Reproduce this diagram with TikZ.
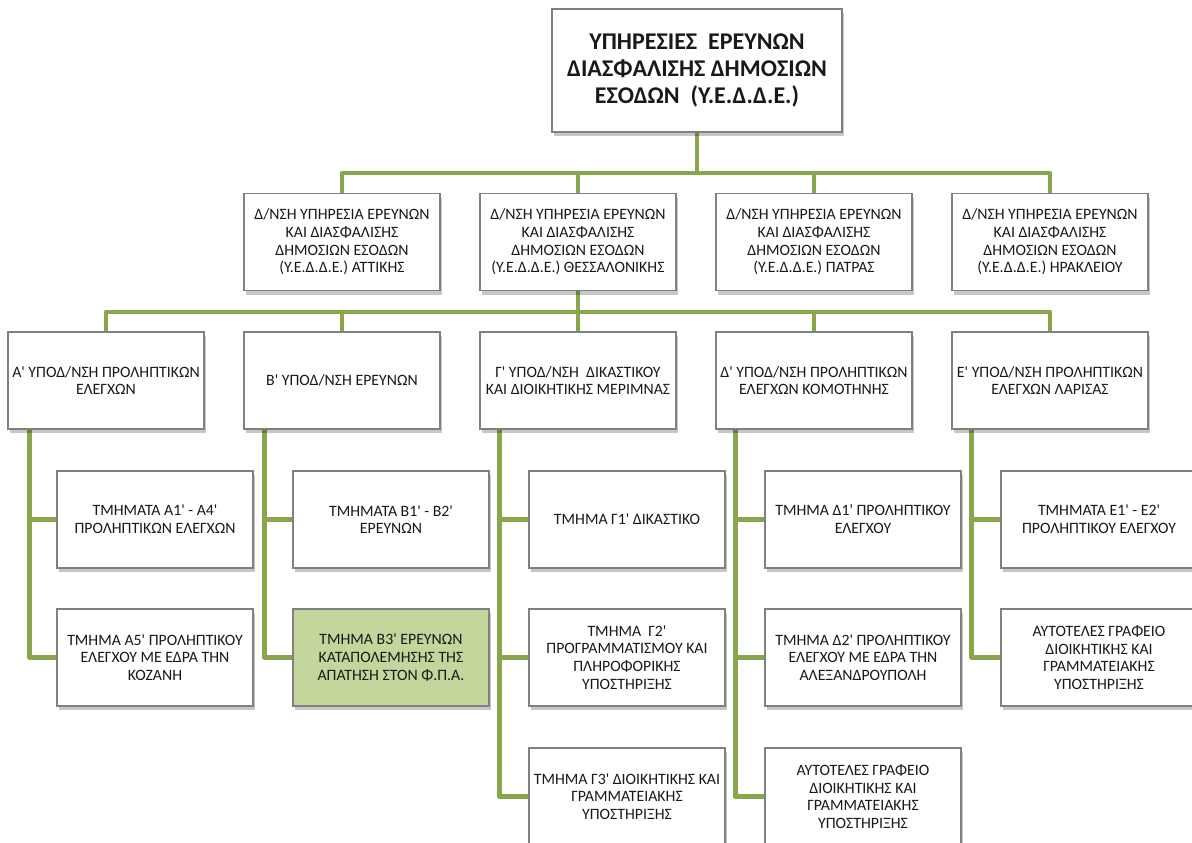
\documentclass[tikz,border=0pt]{standalone}
\usepackage{fontspec}
\setmainfont{Carlito}
\usetikzlibrary{shadows}
\definecolor{lgreen}{RGB}{138,166,76}
\definecolor{boxgray}{RGB}{128,128,128}
\definecolor{bfill}{RGB}{195,214,155}
\pgfdeclarelayer{back}
\pgfdeclarelayer{bg}
\pgfsetlayers{back,bg,main}
\newcommand\q{\textquotesingle}
\newcommand\fsnorm{\fontsize{15.8}{17.6}\selectfont}
\newcommand\fstop{\bfseries\fontsize{24}{26.7}\selectfont}
\tikzset{
  box/.style={draw=boxgray, line width=1.2pt, fill=white, minimum width=196pt,
    minimum height=97pt, inner sep=1pt, align=center, font=\fsnorm, text=black!90,
    drop shadow={shadow xshift=2pt, shadow yshift=-4pt, fill=black, opacity=0.22}},
  topbox/.style={box, minimum width=290pt, minimum height=123pt, font=\fstop},
  greenbox/.style={box, fill=bfill},
  conn/.style={draw=lgreen, line width=4.8pt, line join=round}
}
\begin{document}
\begin{tikzpicture}[x=1pt,y=-1pt]
\useasboundingbox (0,0) rectangle (1192,843);
\clip (0,0) rectangle (1192,843);
\begin{pgfonlayer}{back}
\fill[white] (0,0) rectangle (1192,843);
\end{pgfonlayer}

% top
\node[topbox] (top) at (697,70.5) {ΥΠΗΡΕΣΙΕΣ\ \ ΕΡΕΥΝΩΝ\\ΔΙΑΣΦΑΛΙΣΗΣ ΔΗΜΟΣΙΩΝ\\ΕΣΟΔΩΝ\ \ (Υ.Ε.Δ.Δ.Ε.)};

% row 2
\node[box] (r2a) at (342,242) {Δ/ΝΣΗ ΥΠΗΡΕΣΙΑ ΕΡΕΥΝΩΝ\\ΚΑΙ ΔΙΑΣΦΑΛΙΣΗΣ\\ΔΗΜΟΣΙΩΝ ΕΣΟΔΩΝ\\(Υ.Ε.Δ.Δ.Ε.) ΑΤΤΙΚΗΣ};
\node[box] (r2b) at (578,242) {Δ/ΝΣΗ ΥΠΗΡΕΣΙΑ ΕΡΕΥΝΩΝ\\ΚΑΙ ΔΙΑΣΦΑΛΙΣΗΣ\\ΔΗΜΟΣΙΩΝ ΕΣΟΔΩΝ\\(Υ.Ε.Δ.Δ.Ε.) ΘΕΣΣΑΛΟΝΙΚΗΣ};
\node[box] (r2c) at (814,242) {Δ/ΝΣΗ ΥΠΗΡΕΣΙΑ ΕΡΕΥΝΩΝ\\ΚΑΙ ΔΙΑΣΦΑΛΙΣΗΣ\\ΔΗΜΟΣΙΩΝ ΕΣΟΔΩΝ\\(Υ.Ε.Δ.Δ.Ε.) ΠΑΤΡΑΣ};
\node[box] (r2d) at (1050,242) {Δ/ΝΣΗ ΥΠΗΡΕΣΙΑ ΕΡΕΥΝΩΝ\\ΚΑΙ ΔΙΑΣΦΑΛΙΣΗΣ\\ΔΗΜΟΣΙΩΝ ΕΣΟΔΩΝ\\(Υ.Ε.Δ.Δ.Ε.) ΗΡΑΚΛΕΙΟΥ};

% row 3
\node[box] (A) at (106,380.5) {Α\q{} ΥΠΟΔ/ΝΣΗ ΠΡΟΛΗΠΤΙΚΩΝ\\ΕΛΕΓΧΩΝ};
\node[box] (B) at (342,380.5) {Β\q{} ΥΠΟΔ/ΝΣΗ ΕΡΕΥΝΩΝ};
\node[box] (G) at (578,380.5) {Γ\q{} ΥΠΟΔ/ΝΣΗ\ \ ΔΙΚΑΣΤΙΚΟΥ\\ΚΑΙ ΔΙΟΙΚΗΤΙΚΗΣ ΜΕΡΙΜΝΑΣ};
\node[box] (D) at (814,380.5) {Δ\q{} ΥΠΟΔ/ΝΣΗ ΠΡΟΛΗΠΤΙΚΩΝ\\ΕΛΕΓΧΩΝ ΚΟΜΟΤΗΝΗΣ};
\node[box] (E) at (1050,380.5) {Ε\q{} ΥΠΟΔ/ΝΣΗ ΠΡΟΛΗΠΤΙΚΩΝ\\ΕΛΕΓΧΩΝ ΛΑΡΙΣΑΣ};

% children
\node[box] (A1) at (155,519.5) {ΤΜΗΜΑΤΑ Α1\q{} - Α4\q\\ΠΡΟΛΗΠΤΙΚΩΝ ΕΛΕΓΧΩΝ};
\node[box] (A2) at (155,657.5) {ΤΜΗΜΑ Α5\q{} ΠΡΟΛΗΠΤΙΚΟΥ\\ΕΛΕΓΧΟΥ ΜΕ ΕΔΡΑ ΤΗΝ\\ΚΟΖΑΝΗ};
\node[box] (B1) at (391,519.5) {ΤΜΗΜΑΤΑ Β1\q{} - Β2\q\\ΕΡΕΥΝΩΝ};
\node[greenbox] (B2) at (391,657.5) {ΤΜΗΜΑ Β3\q{} ΕΡΕΥΝΩΝ\\ΚΑΤΑΠΟΛΕΜΗΣΗΣ ΤΗΣ\\ΑΠΑΤΗΣΗ ΣΤΟΝ Φ.Π.Α.};
\node[box] (G1) at (627,519.5) {ΤΜΗΜΑ Γ1\q{} ΔΙΚΑΣΤΙΚΟ};
\node[box] (G2) at (627,657.5) {ΤΜΗΜΑ\ \ Γ2\q\\ΠΡΟΓΡΑΜΜΑΤΙΣΜΟΥ ΚΑΙ\\ΠΛΗΡΟΦΟΡΙΚΗΣ\\ΥΠΟΣΤΗΡΙΞΗΣ};
\node[box] (G3) at (627,796.5) {ΤΜΗΜΑ Γ3\q{} ΔΙΟΙΚΗΤΙΚΗΣ ΚΑΙ\\ΓΡΑΜΜΑΤΕΙΑΚΗΣ\\ΥΠΟΣΤΗΡΙΞΗΣ};
\node[box] (D1) at (863,519.5) {ΤΜΗΜΑ Δ1\q{} ΠΡΟΛΗΠΤΙΚΟΥ\\ΕΛΕΓΧΟΥ};
\node[box] (D2) at (863,657.5) {ΤΜΗΜΑ Δ2\q{} ΠΡΟΛΗΠΤΙΚΟΥ\\ΕΛΕΓΧΟΥ ΜΕ ΕΔΡΑ ΤΗΝ\\ΑΛΕΞΑΝΔΡΟΥΠΟΛΗ};
\node[box] (D3) at (863,796.5) {ΑΥΤΟΤΕΛΕΣ ΓΡΑΦΕΙΟ\\ΔΙΟΙΚΗΤΙΚΗΣ ΚΑΙ\\ΓΡΑΜΜΑΤΕΙΑΚΗΣ\\ΥΠΟΣΤΗΡΙΞΗΣ};
\node[box] (E1) at (1099,519.5) {ΤΜΗΜΑΤΑ Ε1\q{} - Ε2\q\\ΠΡΟΛΗΠΤΙΚΟΥ ΕΛΕΓΧΟΥ};
\node[box] (E2) at (1099,657.5) {ΑΥΤΟΤΕΛΕΣ ΓΡΑΦΕΙΟ\\ΔΙΟΙΚΗΤΙΚΗΣ ΚΑΙ\\ΓΡΑΜΜΑΤΕΙΑΚΗΣ\\ΥΠΟΣΤΗΡΙΞΗΣ};

\coordinate (bus1) at (697,173);
\coordinate (bus2) at (578,312);
\coordinate (vA) at ([xshift=22pt]A.south west);
\coordinate (vB) at ([xshift=21pt]B.south west);
\coordinate (vG) at ([xshift=20pt]G.south west);
\coordinate (vD) at ([xshift=20pt]D.south west);
\coordinate (vE) at ([xshift=20pt]E.south west);

\begin{pgfonlayer}{bg}
\draw[conn] (r2a.north) |- (bus1) -| (r2d.north);
\draw[conn] (top.south) -- (bus1);
\draw[conn] (r2b.north) -- (r2b.north |- bus1);
\draw[conn] (r2c.north) -- (r2c.north |- bus1);
\draw[conn] (A.north) |- (bus2) -| (E.north);
\draw[conn] (r2b.south) -- (bus2);
\draw[conn] (B.north) -- (B.north |- bus2);
\draw[conn] (G.north) -- (G.north |- bus2);
\draw[conn] (D.north) -- (D.north |- bus2);
\draw[conn] (vA) |- (A2.west);
\draw[conn] (A1.west) -- (A1.west -| vA);
\draw[conn] (vB) |- (B2.west);
\draw[conn] (B1.west) -- (B1.west -| vB);
\draw[conn] (vG) |- (G3.west);
\draw[conn] (G1.west) -- (G1.west -| vG);
\draw[conn] (G2.west) -- (G2.west -| vG);
\draw[conn] (vD) |- (D3.west);
\draw[conn] (D1.west) -- (D1.west -| vD);
\draw[conn] (D2.west) -- (D2.west -| vD);
\draw[conn] (vE) |- (E2.west);
\draw[conn] (E1.west) -- (E1.west -| vE);
\end{pgfonlayer}
\end{tikzpicture}
\end{document}
